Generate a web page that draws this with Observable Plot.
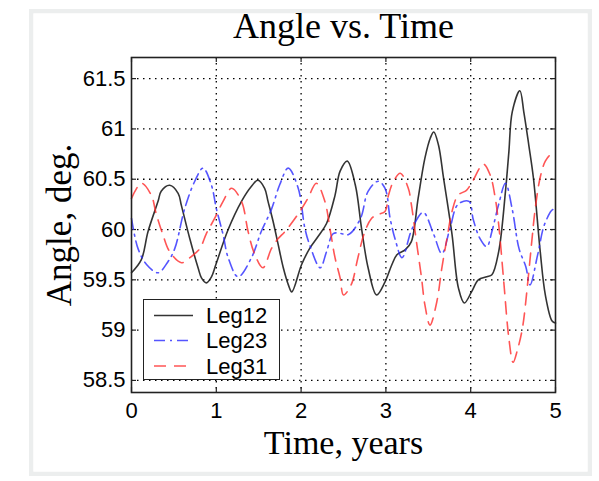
<!DOCTYPE html>
<html><head><meta charset="utf-8">
<script src="https://cdn.jsdelivr.net/npm/d3@7"></script>
<script src="https://cdn.jsdelivr.net/npm/@observablehq/plot@0.6"></script>
<style>
html,body{margin:0;padding:0;background:#fff;}
#wrap{position:relative;width:599px;height:481px;overflow:hidden;background:#fff;}
#border{position:absolute;left:29px;top:9px;width:563px;height:467px;box-sizing:border-box;border:4px solid #eceeee;box-shadow:inset 0 0 1px #cfcfcf;}
#chart{position:absolute;left:0;top:0;}
#legend{position:absolute;left:143px;top:299px;width:137px;height:81px;box-sizing:border-box;border:1.5px solid #222;background:#fff;}
</style></head><body>
<div id="wrap"><div id="border"></div><div id="chart"></div><div id="legend"></div></div>
<script>
const titleText = "Angle vs. Time";
const xLabel = "Time, years";
const yLabel = "Angle, deg.";
const seriesNames = ["Leg12", "Leg23", "Leg31"];
const xTicks = [0, 1, 2, 3, 4, 5];
const yTicks = [58.5, 59, 59.5, 60, 60.5, 61, 61.5];
const xDomain = [0, 5];
const yDomain = [58.38, 61.71];

const t12 = [0, 0.116, 0.195, 0.313, 0.35, 0.45, 0.55, 0.588, 0.687, 0.785, 0.825, 0.883, 0.943, 0.994, 1.14, 1.297, 1.415, 1.49, 1.57, 1.61, 1.67, 1.73, 1.79, 1.85, 1.89, 2.005, 2.10, 2.20, 2.30, 2.40, 2.46, 2.544, 2.64, 2.713, 2.79, 2.89, 2.99, 3.07, 3.13, 3.23, 3.30, 3.38, 3.46, 3.524, 3.565, 3.62, 3.68, 3.78, 3.855, 3.925, 4.01, 4.09, 4.19, 4.25, 4.33, 4.41, 4.45, 4.49, 4.58, 4.626, 4.685, 4.74, 4.82, 4.88, 4.96, 5.0];
const v12 = [59.57, 59.70, 59.98, 60.28, 60.38, 60.44, 60.36, 60.24, 59.91, 59.62, 59.52, 59.47, 59.53, 59.65, 60.0, 60.28, 60.43, 60.49, 60.41, 60.28, 60.08, 59.85, 59.62, 59.45, 59.38, 59.65, 59.81, 59.93, 60.06, 60.34, 60.58, 60.68, 60.44, 60.01, 59.62, 59.35, 59.48, 59.65, 59.75, 59.80, 59.88, 60.31, 60.71, 60.91, 60.97, 60.84, 60.51, 59.95, 59.42, 59.27, 59.38, 59.50, 59.53, 59.55, 59.78, 60.38, 60.77, 61.17, 61.38, 61.17, 60.84, 60.51, 59.78, 59.35, 59.09, 59.07];

const t23 = [0, 0.077, 0.18, 0.313, 0.43, 0.51, 0.628, 0.746, 0.844, 0.943, 1.0, 1.08, 1.14, 1.257, 1.415, 1.53, 1.65, 1.75, 1.848, 1.966, 2.045, 2.10, 2.225, 2.30, 2.38, 2.47, 2.56, 2.70, 2.79, 2.91, 2.99, 3.05, 3.11, 3.19, 3.31, 3.44, 3.56, 3.66, 3.755, 3.85, 3.98, 4.03, 4.11, 4.19, 4.25, 4.33, 4.41, 4.49, 4.57, 4.65, 4.70, 4.79, 4.87, 4.97, 5.0];
const v23 = [60.11, 59.81, 59.65, 59.57, 59.68, 59.81, 60.21, 60.48, 60.61, 60.44, 60.21, 59.95, 59.72, 59.53, 59.72, 59.98, 60.2, 60.45, 60.61, 60.41, 60.01, 59.85, 59.62, 59.78, 59.96, 59.96, 59.95, 60.11, 60.38, 60.48, 60.41, 60.11, 59.9, 59.72, 60.01, 60.17, 59.96, 59.76, 60.01, 60.25, 60.28, 60.10, 59.91, 59.83, 59.98, 60.25, 60.46, 60.2, 59.81, 59.63, 59.45, 59.75, 60.05, 60.2, 60.18];

const t31 = [0, 0.116, 0.234, 0.29, 0.37, 0.45, 0.588, 0.687, 0.805, 0.883, 0.98, 1.08, 1.18, 1.297, 1.375, 1.45, 1.55, 1.65, 1.73, 1.81, 1.97, 2.08, 2.18, 2.28, 2.34, 2.40, 2.46, 2.50, 2.59, 2.67, 2.74, 2.83, 2.91, 2.99, 3.03, 3.09, 3.17, 3.264, 3.30, 3.36, 3.42, 3.46, 3.52, 3.60, 3.66, 3.72, 3.78, 3.85, 3.95, 4.01, 4.15, 4.23, 4.29, 4.33, 4.39, 4.45, 4.50, 4.55, 4.61, 4.67, 4.72, 4.76, 4.82, 4.88, 4.94, 5.0];
const v31 = [60.31, 60.46, 60.34, 60.16, 59.95, 59.78, 59.67, 59.72, 59.81, 59.96, 60.11, 60.28, 60.41, 60.28, 59.98, 59.76, 59.62, 59.81, 59.91, 59.98, 60.16, 60.31, 60.46, 60.28, 60.01, 59.72, 59.52, 59.35, 59.45, 59.72, 59.95, 60.11, 60.15, 60.18, 60.34, 60.48, 60.56, 60.41, 60.25, 59.88, 59.52, 59.25, 59.05, 59.28, 59.62, 59.91, 60.18, 60.34, 60.39, 60.46, 60.65, 60.54, 60.31, 60.05, 59.48, 58.92, 58.68, 58.80, 59.02, 59.45, 59.88, 60.2, 60.52, 60.68, 60.74, 60.73];

const styles = [
  {stroke: "#111", strokeDasharray: null, strokeOpacity: 0.85},
  {stroke: "#2a2aff", strokeDasharray: "11,5,2,5", strokeOpacity: 0.8},
  {stroke: "#ff2a2a", strokeDasharray: "12,8", strokeOpacity: 0.8}
];
const toRows = (ts, vs) => ts.map((t, i) => ({t, v: vs[i]}));
const series = [toRows(t12, v12), toRows(t23, v23), toRows(t31, v31)];

const serif = "'Liberation Serif', 'Times New Roman', serif";
const sans = "'Liberation Sans', Arial, Helvetica, sans-serif";
const tx = 0.059, ty = 0.05; // inner tick length in data units
const gridStyle = {stroke: "#000", strokeOpacity: 1, strokeWidth: 1.3, strokeDasharray: "1.5,4.5"};

const chart = Plot.plot({
  width: 599, height: 481,
  marginLeft: 131, marginRight: 44, marginTop: 57, marginBottom: 89,
  style: {background: "transparent", fontFamily: sans, fontSize: "22px", color: "#000", overflow: "visible"},
  x: {domain: xDomain, ticks: xTicks},
  y: {domain: yDomain, ticks: yTicks},
  marks: [
    Plot.gridY(yTicks, gridStyle),
    Plot.gridX(xTicks.slice(1, -1), gridStyle),
    Plot.ruleX(xTicks, {x: d => d, y1: yDomain[0], y2: yDomain[0] + ty, stroke: "#222", strokeWidth: 1.2}),
    Plot.ruleX(xTicks, {x: d => d, y1: yDomain[1] - ty, y2: yDomain[1], stroke: "#222", strokeWidth: 1.2}),
    Plot.ruleY(yTicks, {y: d => d, x1: xDomain[0], x2: xDomain[0] + tx, stroke: "#222", strokeWidth: 1.2}),
    Plot.ruleY(yTicks, {y: d => d, x1: xDomain[1] - tx, x2: xDomain[1], stroke: "#222", strokeWidth: 1.2}),
    ...series.map((rows, i) => Plot.line(rows, {x: "t", y: "v", curve: "catmull-rom", strokeWidth: 1.6, ...styles[i]})),
    Plot.frame({stroke: "#222", strokeWidth: 1.6}),
    Plot.axisX(xTicks, {tickSize: 0, tickPadding: 10, label: null, fontSize: 22, fontFamily: sans}),
    Plot.axisY(yTicks, {tickSize: 0, tickPadding: 6, label: null, tickFormat: d => String(d), fontSize: 22, fontFamily: sans}),
    Plot.text([titleText], {text: d => d, frameAnchor: "top", dy: -20, lineAnchor: "bottom", textAnchor: "middle", fontFamily: serif, fontSize: 36, fill: "#000"}),
    Plot.text([xLabel], {text: d => d, frameAnchor: "bottom", dy: 61, lineAnchor: "bottom", textAnchor: "middle", fontFamily: serif, fontSize: 34, fill: "#000"}),
    Plot.text([yLabel], {text: d => d, frameAnchor: "left", dx: -61, rotate: -90, lineAnchor: "bottom", textAnchor: "middle", fontFamily: serif, fontSize: 35, fill: "#000"})
  ]
});
document.getElementById("chart").appendChild(chart);

// legend (layout in px, content from seriesNames/styles)
const leg = document.getElementById("legend");
const rowsY = [15.5, 40.5, 66];
let svg = `<svg width="134" height="78" style="position:absolute;left:0;top:0;overflow:visible">`;
seriesNames.forEach((name, i) => {
  const s = styles[i];
  svg += `<line x1="10" x2="49" y1="${rowsY[i]}" y2="${rowsY[i]}" stroke="${s.stroke}" stroke-width="1.5" stroke-opacity="${s.strokeOpacity}" ${s.strokeDasharray ? `stroke-dasharray="${s.strokeDasharray}"` : ""}/>`;
  svg += `<text x="62" y="${rowsY[i]}" dy="0.36em" font-family="${sans.replace(/'/g, "")}" font-size="22" fill="#000">${name}</text>`;
});
svg += `</svg>`;
leg.innerHTML = svg;
</script>
</body></html>
